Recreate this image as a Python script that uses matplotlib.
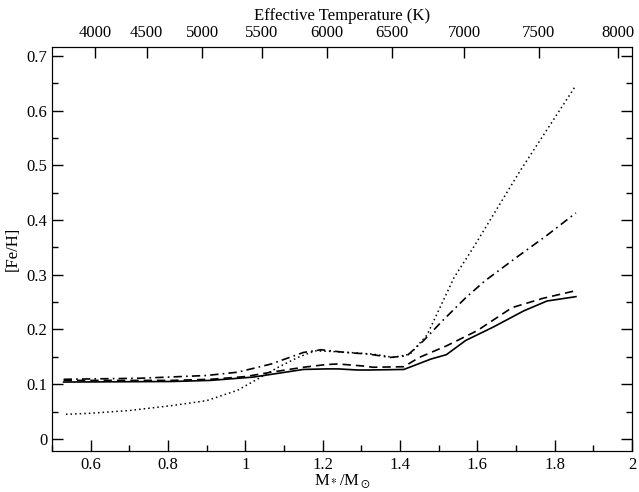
import numpy as np
import matplotlib.pyplot as plt
from matplotlib.ticker import MultipleLocator

plt.rcParams['font.family'] = ['Liberation Serif', 'DejaVu Serif']
plt.rcParams['mathtext.fontset'] = 'stix'

# Кривi [Fe/H] як функцiя маси
m_solid = [0.53, 0.81, 0.91, 1.02, 1.085, 1.15, 1.21, 1.24, 1.29, 1.32, 1.41, 1.48, 1.52, 1.57, 1.64, 1.72, 1.78, 1.855]
fe_solid = [0.104, 0.105, 0.107, 0.113, 0.120, 0.127, 0.128, 0.128, 0.126, 0.126, 0.127, 0.146, 0.154, 0.180, 0.204, 0.234, 0.252, 0.260]

m_dash = [0.53, 0.81, 0.91, 1.0, 1.067, 1.15, 1.21, 1.24, 1.31, 1.33, 1.41, 1.45, 1.52, 1.60, 1.69, 1.77, 1.855]
fe_dash = [0.107, 0.107, 0.109, 0.114, 0.122, 0.131, 0.136, 0.137, 0.133, 0.131, 0.132, 0.149, 0.170, 0.198, 0.240, 0.257, 0.271]

m_dotdash = [0.53, 0.73, 0.90, 0.98, 1.067, 1.15, 1.196, 1.26, 1.32, 1.375, 1.418, 1.46, 1.51, 1.57, 1.62, 1.70, 1.78, 1.855]
fe_dotdash = [0.109, 0.111, 0.116, 0.122, 0.137, 0.158, 0.163, 0.158, 0.155, 0.149, 0.152, 0.179, 0.216, 0.258, 0.289, 0.331, 0.372, 0.413]

m_dot = [0.536, 0.60, 0.70, 0.81, 0.90, 0.98, 1.033, 1.085, 1.136, 1.18, 1.22, 1.27, 1.33, 1.384, 1.426, 1.47, 1.50, 1.54, 1.59, 1.71, 1.855]
fe_dot = [0.045, 0.047, 0.052, 0.061, 0.070, 0.089, 0.110, 0.131, 0.149, 0.161, 0.160, 0.158, 0.155, 0.149, 0.155, 0.190, 0.235, 0.295, 0.350, 0.489, 0.646]

# Верхня вiсь: ефективна температура
teff_labels = [4000, 4500, 5000, 5500, 6000, 6500, 7000, 7500, 8000]
teff_mass = [0.612, 0.745, 0.888, 1.043, 1.212, 1.379, 1.566, 1.759, 1.964]

fig = plt.figure(figsize=(6.39, 4.92), dpi=100)
ax = fig.add_axes([0.0814, 0.0833, 0.9076, 0.8211])

ax.plot(m_solid, fe_solid, color='black', lw=1.2, ls='-')
ax.plot(m_dash, fe_dash, color='black', lw=1.2, ls=(0, (5, 3)))
ax.plot(m_dotdash, fe_dotdash, color='black', lw=1.2, ls=(0, (5, 2.5, 1, 2.5)))
ax.plot(m_dot, fe_dot, color='black', lw=1.1, ls=(0, (1, 2)))

ax.xaxis.set_major_locator(MultipleLocator(0.2))
ax.xaxis.set_minor_locator(MultipleLocator(0.1))
ax.yaxis.set_major_locator(MultipleLocator(0.1))
ax.yaxis.set_minor_locator(MultipleLocator(0.05))
ax.set_xlim(0.5, 2.0)
ax.set_ylim(-0.022, 0.716)
ax.set_xticks(ax.get_xticks())
ax.set_xticklabels(['%g' % round(v, 2) for v in ax.get_xticks()])
ax.set_yticks(ax.get_yticks())
ax.set_yticklabels(['%g' % round(v, 2) for v in ax.get_yticks()])
ax.set_xlim(0.5, 2.0)
ax.set_ylim(-0.022, 0.716)
ax.tick_params(which='both', direction='in', top=False, right=True, labelsize=12, width=1)
ax.tick_params(which='major', length=8)
ax.tick_params(which='minor', length=4)
ax.tick_params(axis='x', pad=4)
ax.set_xlabel(r'M$_*$/M$_\odot$', fontsize=12, labelpad=0)
ax.set_ylabel('[Fe/H]', fontsize=12, labelpad=4)

ax2 = ax.twiny()
ax2.set_xlim(ax.get_xlim())
ax2.set_xticks(teff_mass)
ax2.set_xticklabels([str(t) for t in teff_labels])
ax2.tick_params(direction='in', length=8, width=1, labelsize=12, pad=4)
ax2.set_xlabel('Effective Temperature (K)', fontsize=12, labelpad=4)

fig.savefig('out.png', dpi=100)
